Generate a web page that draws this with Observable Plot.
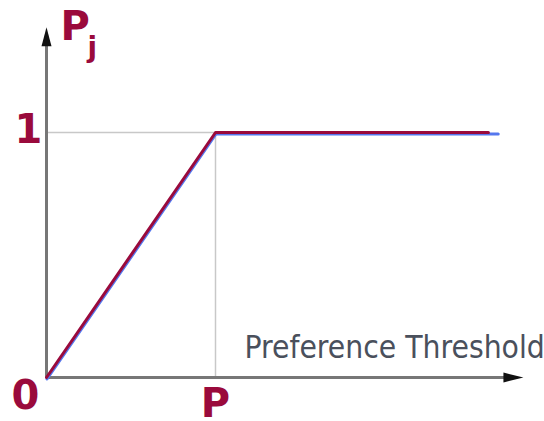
<!DOCTYPE html>
<html>
<head>
<meta charset="utf-8">
<script src="https://cdn.jsdelivr.net/npm/d3@7"></script>
<script src="https://cdn.jsdelivr.net/npm/@observablehq/plot@0.6"></script>
<style>
  html, body { margin: 0; padding: 0; background: #fff; }
</style>
</head>
<body>
<div id="chart"></div>
<script>
// Piecewise-linear preference function: rises from 0 to 1 at the threshold P, then stays at 1.
const curveX = [0, 1, 2.615];
const curveY = [0, 1, 1];
const shadowX = [0, 1, 2.67];
const shadowY = [0, 1, 1];

// Axis extents (arrow tips) and labels
const yAxisTip = 1.43;
const xAxisTip = 2.822;
const xAxisTitle = "Preference Threshold";
const yAxisTitle = "P";
const yAxisSub = "j";
const tickLabels = [
  {x: 0, y: 1, text: "1"},
  {x: 0, y: 0, text: "0"},
  {x: 1, y: 0, text: "P"}
];

const curve = curveX.map((x, i) => ({x, y: curveY[i]}));
const shadow = shadowX.map((x, i) => ({x, y: shadowY[i]}));

const maroon = "#9a0a3c";
const bold = "DejaVu Sans, Verdana, sans-serif";

// Filled arrowheads, tip at the symbol origin
const arrowUp = {draw(ctx) { ctx.moveTo(0, 0); ctx.lineTo(-5, 19); ctx.lineTo(5, 19); ctx.closePath(); }};
const arrowRight = {draw(ctx) { ctx.moveTo(0, 0); ctx.lineTo(-20, -5); ctx.lineTo(-20, 5); ctx.closePath(); }};

const chart = Plot.plot({
  width: 544,
  height: 421,
  margin: 0,
  x: {domain: [-46 / 169, 498 / 169], axis: null},
  y: {domain: [-44 / 245, 1 + 132 / 245], axis: null},
  marks: [
    // guide lines to the corner of the curve
    Plot.ruleY([1], {x1: 0, x2: 1, stroke: "#c8c8c8", strokeWidth: 1.5}),
    Plot.ruleX([1], {y1: 0, y2: 1, stroke: "#c8c8c8", strokeWidth: 1.5}),
    // axes
    Plot.ruleX([0], {y1: 0, y2: yAxisTip - 0.05, stroke: "#777", strokeWidth: 3}),
    Plot.ruleY([0], {x1: 0, x2: xAxisTip - 0.08, stroke: "#777", strokeWidth: 3}),
    Plot.dot([{x: 0, y: yAxisTip}], {x: "x", y: "y", symbol: arrowUp, fill: "#111", stroke: "none"}),
    Plot.dot([{x: xAxisTip, y: 0}], {x: "x", y: "y", symbol: arrowRight, fill: "#111", stroke: "none"}),
    // curve
    Plot.line(shadow, {x: "x", y: "y", stroke: "#5577ee", strokeWidth: 3, dy: 1.5, dx: 0.5}),
    Plot.line(curve, {x: "x", y: "y", stroke: maroon, strokeWidth: 3}),
    // tick labels
    Plot.text(tickLabels.slice(0, 1), {x: "x", y: "y", text: "text", fill: maroon, fontSize: 40, fontWeight: "bold", fontFamily: bold, textAnchor: "middle", lineAnchor: "bottom", dx: -18, dy: 10}),
    Plot.text(tickLabels.slice(1, 2), {x: "x", y: "y", text: "text", fill: maroon, fontSize: 40, fontWeight: "bold", fontFamily: bold, textAnchor: "middle", lineAnchor: "bottom", dx: -21, dy: 31}),
    Plot.text(tickLabels.slice(2, 3), {x: "x", y: "y", text: "text", fill: maroon, fontSize: 40, fontWeight: "bold", fontFamily: bold, textAnchor: "middle", lineAnchor: "bottom", dx: 0, dy: 39}),
    // axis titles
    Plot.text([yAxisTitle], {x: 0, y: yAxisTip, text: d => d, fill: maroon, fontSize: 40, fontWeight: "bold", fontFamily: bold, textAnchor: "start", lineAnchor: "bottom", dx: 14, dy: 13}),
    Plot.text([yAxisSub], {x: 0, y: yAxisTip, text: d => d, fill: maroon, fontSize: 28, fontWeight: "bold", fontFamily: bold, textAnchor: "start", lineAnchor: "bottom", dx: 41, dy: 30}),
    Plot.text([xAxisTitle], {x: 1, y: 0, text: d => d, fill: "#4a505c", fontSize: 31.5, fontFamily: "DejaVu Sans Condensed, DejaVu Sans, sans-serif", textAnchor: "start", lineAnchor: "bottom", dx: 29, dy: -20})
  ]
});

document.getElementById("chart").appendChild(chart);
</script>
</body>
</html>
